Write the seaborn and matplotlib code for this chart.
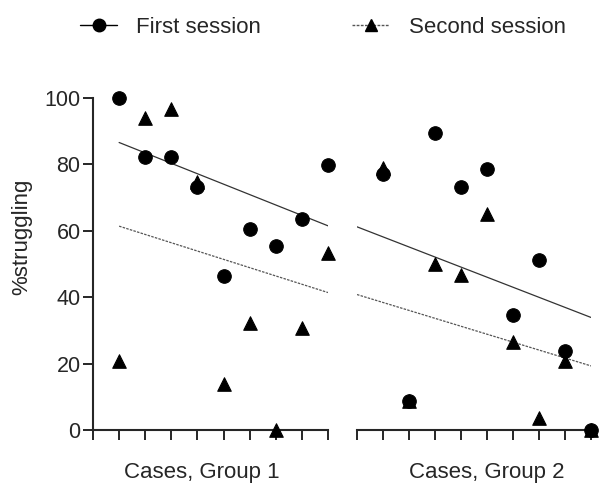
import matplotlib
matplotlib.use("Agg")
import matplotlib.pyplot as plt
from matplotlib.lines import Line2D
import pandas as pd
import seaborn as sns

# ===== data =====
cases = [1, 2, 3, 4, 5, 6, 7, 8, 9]
g1_first = [100, 82.2, 82.2, 73.3, 46.4, 60.6, 55.5, 63.6, 79.9]
g1_second = [20.8, 93.9, 96.6, 74.8, 13.8, 32.1, 0, 30.6, 53.4]
g2_first = [77.1, 8.8, 89.5, 73.3, 78.5, 34.5, 51.1, 23.8, 0]
g2_second = [78.8, 8.8, 49.9, 46.7, 65.0, 26.6, 3.5, 20.8, 0]

# fitted trend lines (end points)
g1_fit_x = [1, 9]
g1_fit_first = [86.6, 61.5]
g1_fit_second = [61.4, 41.4]
g2_fit_x = [0, 9]
g2_fit_first = [61.2, 33.9]
g2_fit_second = [40.8, 19.3]

group_labels = ["Cases, Group 1", "Cases, Group 2"]
y_ticks = [0, 20, 40, 60, 80, 100]

sns.set_style("ticks")
plt.rcParams['font.family'] = ['Liberation Sans', 'DejaVu Sans']

fig = plt.figure(figsize=(6, 4.84), dpi=100)
ax1 = fig.add_axes([0.155, 0.1116, 0.3917, 0.6859])
ax2 = fig.add_axes([0.595, 0.1116, 0.390, 0.6859])

groups = [
    (ax1, g1_first, g1_second, g1_fit_x, g1_fit_first, g1_fit_second),
    (ax2, g2_first, g2_second, g2_fit_x, g2_fit_first, g2_fit_second),
]

for ax, first, second, fx, ff, fs in groups:
    pts = pd.DataFrame({"case": cases * 2,
                        "pct": first + second,
                        "session": ["First"] * 9 + ["Second"] * 9})
    fit = pd.DataFrame({"case": fx * 2, "pct": ff + fs,
                        "session": ["First"] * 2 + ["Second"] * 2})
    sns.lineplot(data=fit[fit.session == "First"], x="case", y="pct", ax=ax,
                 color="#333333", lw=0.9, legend=False)
    sns.lineplot(data=fit[fit.session == "Second"], x="case", y="pct", ax=ax,
                 color="#555555", lw=0.9, ls=(0, (2, 1)), legend=False)
    sns.scatterplot(data=pts[pts.session == "First"], x="case", y="pct", ax=ax,
                    marker="o", s=95, color="black", edgecolor="black",
                    clip_on=False, zorder=5, legend=False)
    sns.scatterplot(data=pts[pts.session == "Second"], x="case", y="pct", ax=ax,
                    marker="^", s=95, color="black", edgecolor="black",
                    clip_on=False, zorder=6, legend=False)

    ax.set_xlim(0, 9)
    ax.set_ylim(0, 100)
    ax.set_xticks(range(0, 10))
    ax.set_xticklabels([])
    ax.set_xlabel("")
    ax.set_ylabel("")
    ax.tick_params(axis="x", direction="out", length=7.5, width=1.4)
    for sp in ["top", "right"]:
        ax.spines[sp].set_visible(False)
    ax.spines["bottom"].set_linewidth(1.5)

# end caps on the split x axis
ax1.set_xticks([9], minor=True)
ax2.set_xticks([0], minor=True)
for ax in (ax1, ax2):
    ax.tick_params(axis="x", which="minor", direction="in", length=3.6, width=1.4)

ax1.set_yticks(y_ticks)
ax1.set_yticklabels([str(t) for t in y_ticks], fontsize=15.5)
ax1.tick_params(axis="y", direction="out", length=7.5, width=1.4, pad=1.5)
ax1.spines["left"].set_linewidth(1.5)

ax2.spines["left"].set_visible(False)
ax2.set_yticks([])

fig.text(22 / 600, 1 - 237 / 484, "%struggling", rotation=90,
         ha="center", va="center", fontsize=16)
fig.text(202 / 600, 1 - 478 / 484, group_labels[0], ha="center",
         va="baseline", fontsize=16)
fig.text(487 / 600, 1 - 478 / 484, group_labels[1], ha="center",
         va="baseline", fontsize=16)

handles = [
    Line2D([], [], color="black", lw=1, marker="o", markersize=9),
    Line2D([], [], color="#555555", lw=1, ls=(0, (2, 1)), marker="^",
           markersize=9, markerfacecolor="black", markeredgecolor="black"),
]
fig.legend(handles, ["First session", "Second session"], loc="center",
           bbox_to_anchor=(0.538, 0.943), ncol=2, frameon=False, fontsize=16,
           handlelength=1.67, handletextpad=0.86, columnspacing=4.1)

fig.savefig("out.png", dpi=100)
